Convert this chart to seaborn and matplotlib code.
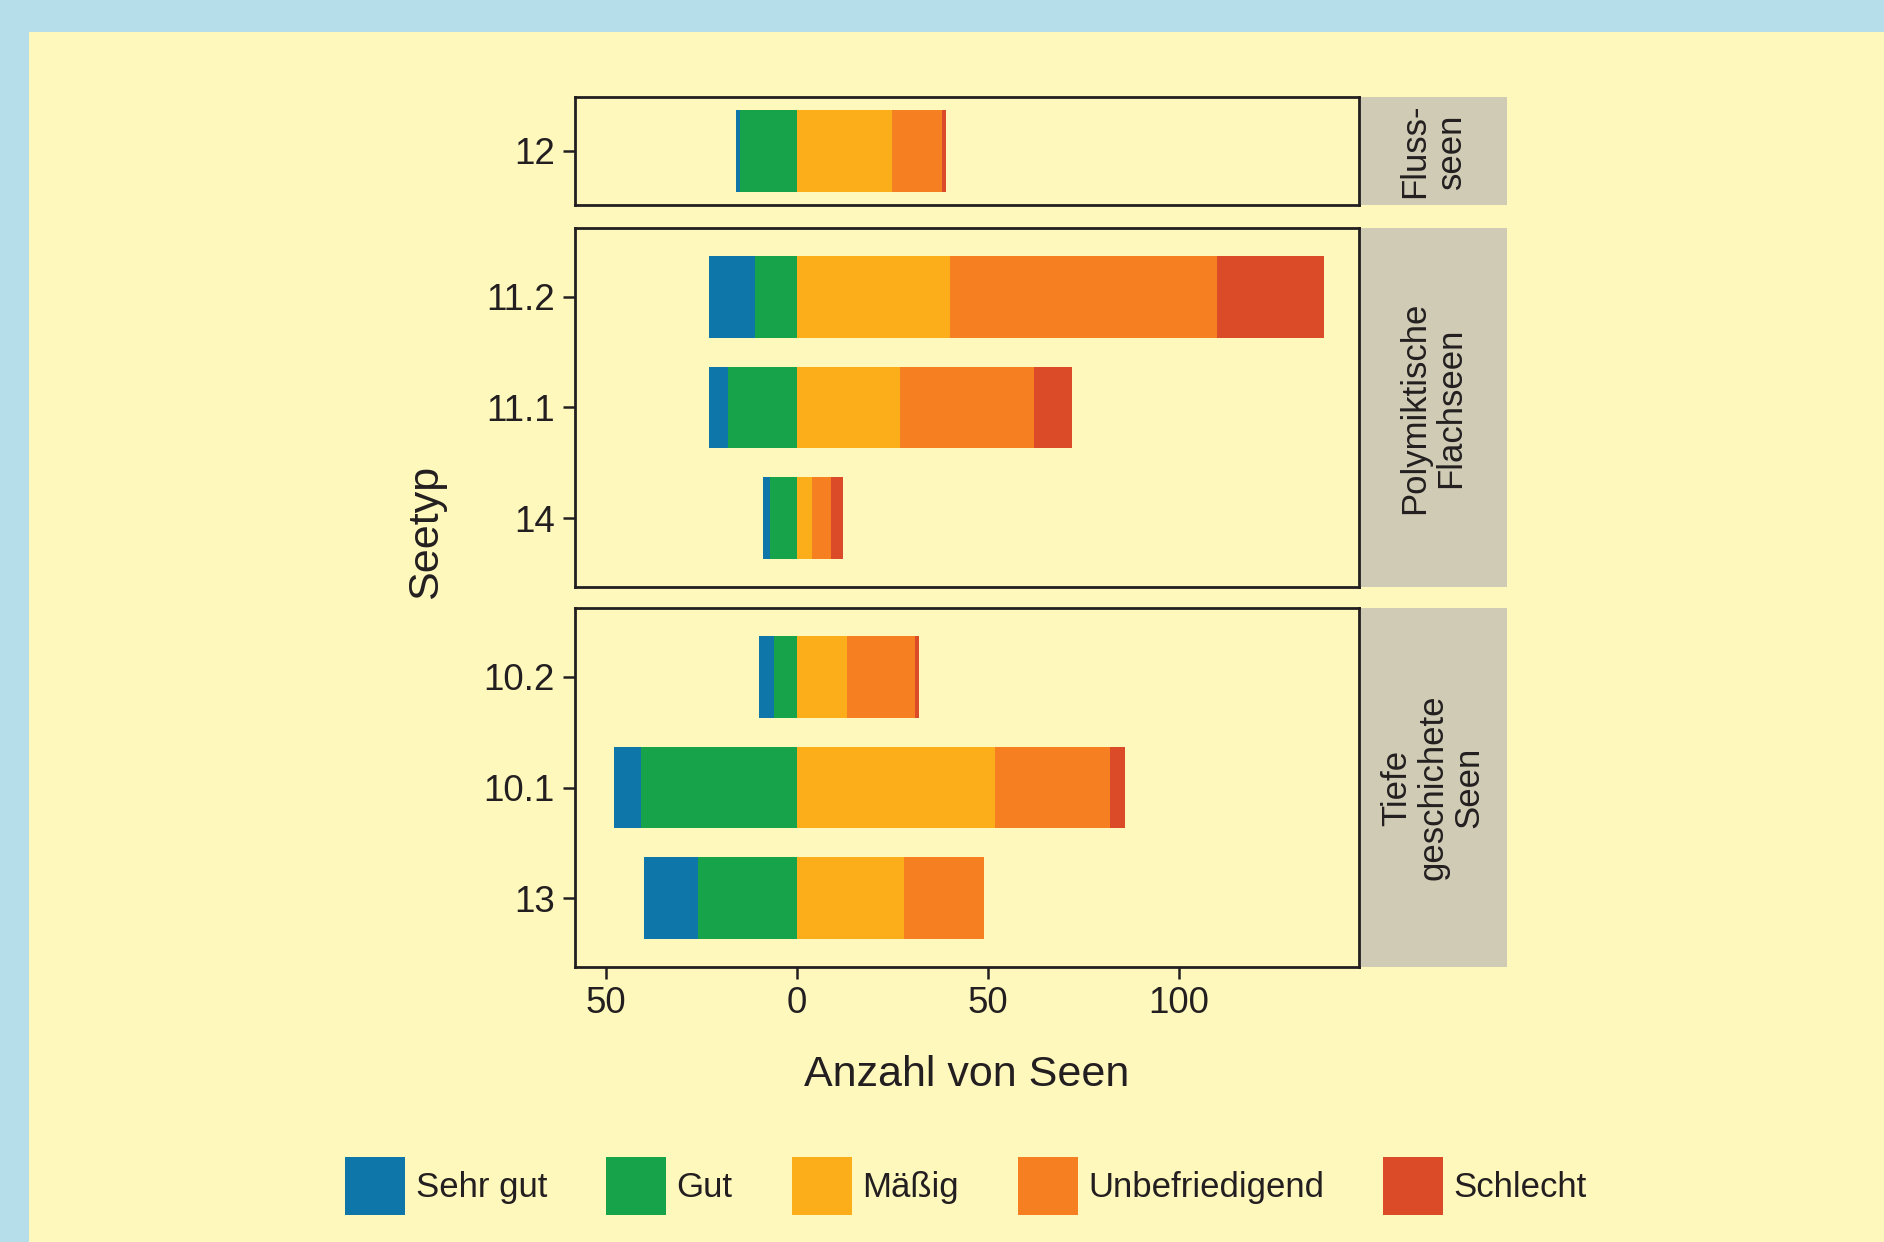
import pandas as pd
import seaborn as sns
import matplotlib.pyplot as plt
from matplotlib.patches import Patch, Rectangle

sns.set_style("white")
plt.rcParams['font.family'] = ['Liberation Sans', 'DejaVu Sans']

# Daten
seetyp = ["12", "11.2", "11.1", "14", "10.2", "10.1", "13"]
gruppe = ["Fluss-\nseen",
          "Polymiktische\nFlachseen", "Polymiktische\nFlachseen", "Polymiktische\nFlachseen",
          "Tiefe\ngeschichete\nSeen", "Tiefe\ngeschichete\nSeen", "Tiefe\ngeschichete\nSeen"]
sehr_gut = [1, 12, 5, 2, 4, 7, 14]
gut = [15, 11, 18, 7, 6, 41, 26]
maessig = [25, 40, 27, 4, 13, 52, 28]
unbefriedigend = [13, 70, 35, 5, 18, 30, 21]
schlecht = [1, 28, 10, 3, 1, 4, 0]

klassen = ["Sehr gut", "Gut", "Mäßig", "Unbefriedigend", "Schlecht"]
farben = ["#0E76A8", "#17A34A", "#FBAE1A", "#F67F22", "#DC4B28"]
x_ticks = [-50, 0, 50, 100]
x_ticklabels = ["50", "0", "50", "100"]

df = pd.DataFrame({"Seetyp": seetyp, "Gruppe": gruppe, "sg": sehr_gut, "g": gut,
                   "m": maessig, "u": unbefriedigend, "s": schlecht})
# kumulierte Enden (links negativ, rechts positiv)
df["c_sg"] = -(df["sg"] + df["g"])
df["c_g"] = -df["g"]
df["c_s"] = df["m"] + df["u"] + df["s"]
df["c_u"] = df["m"] + df["u"]
df["c_m"] = df["m"]

bg = "#FFF8BD"
strip_col = "#CFCBB4"
txt = "#231F20"

fig = plt.figure(figsize=(18.84, 12.42), dpi=100, facecolor="#B5DDEA")
fig.add_artist(Rectangle((29 / 1884, 0), 1 - 29 / 1884, 1 - 32 / 1242,
                         transform=fig.transFigure, facecolor=bg,
                         edgecolor="none", zorder=-5))

W, H = 1884, 1242
left, right = 575, 1359
strip_r = 1507
panels = [(97, 205), (228, 587), (608, 967)]
gruppen = list(dict.fromkeys(gruppe))

for i, (grp, (top, bot)) in enumerate(zip(gruppen, panels)):
    sax = fig.add_axes([right / W, 1 - bot / H, (strip_r - right) / W, (bot - top) / H])
    sax.set_zorder(1)
    sax.set_facecolor(strip_col)
    for sp in sax.spines.values():
        sp.set_visible(False)
    sax.set_xticks([])
    sax.set_yticks([])
    sax.text(0.5, 0.5, grp, rotation=90, ha="center", va="center",
             multialignment="center", fontsize=25, color=txt,
             linespacing=1.12, transform=sax.transAxes)

    ax = fig.add_axes([left / W, 1 - bot / H, (right - left) / W, (bot - top) / H])
    ax.set_zorder(2)
    sub = df[df["Gruppe"] == grp]
    order = list(sub["Seetyp"])
    for col, c in [("c_sg", farben[0]), ("c_g", farben[1]), ("c_s", farben[4]),
                   ("c_u", farben[3]), ("c_m", farben[2])]:
        sns.barplot(data=sub, x=col, y="Seetyp", order=order, orient="h",
                    color=c, saturation=1, width=0.74, errorbar=None,
                    linewidth=0, ax=ax)
    n = len(order)
    if n == 1:
        ax.set_ylim(0.486, -0.486)
    else:
        ax.set_ylim(n - 1 + 0.62, -0.62)
    ax.set_xlim(-58.2, 147.3)
    ax.set_facecolor(bg)
    for sp in ax.spines.values():
        sp.set_visible(True)
        sp.set_linewidth(2.0)
        sp.set_color(txt)
    ax.set_xlabel("")
    ax.set_ylabel("")
    ax.tick_params(axis="y", length=8.5, width=1.8, color=txt, labelsize=26.5,
                   labelcolor=txt, pad=6, left=True)
    ax.set_xticks(x_ticks)
    if i == len(panels) - 1:
        ax.set_xticklabels(x_ticklabels)
        ax.tick_params(axis="x", length=8.5, width=1.8, color=txt, labelsize=26.5,
                       labelcolor=txt, pad=5, bottom=True)
    else:
        ax.tick_params(axis="x", bottom=False, labelbottom=False)

fig.text(967 / W, 1 - 1075 / H, "Anzahl von Seen", ha="center", va="center",
         fontsize=31, color=txt)
fig.text(426 / W, 1 - 532 / H, "Seetyp", ha="center", va="center",
         rotation=90, fontsize=31, color=txt)

handles = [Patch(facecolor=c, edgecolor="none", label=k) for k, c in zip(klassen, farben)]
fig.legend(handles=handles, loc="center", bbox_to_anchor=(966 / W, 1 - 1186 / H),
           ncol=5, frameon=False, fontsize=25, labelcolor=txt,
           handlelength=1.73, handleheight=2.2, handletextpad=0.3,
           columnspacing=1.7)

fig.savefig("out.png", dpi=100, facecolor=fig.get_facecolor())
